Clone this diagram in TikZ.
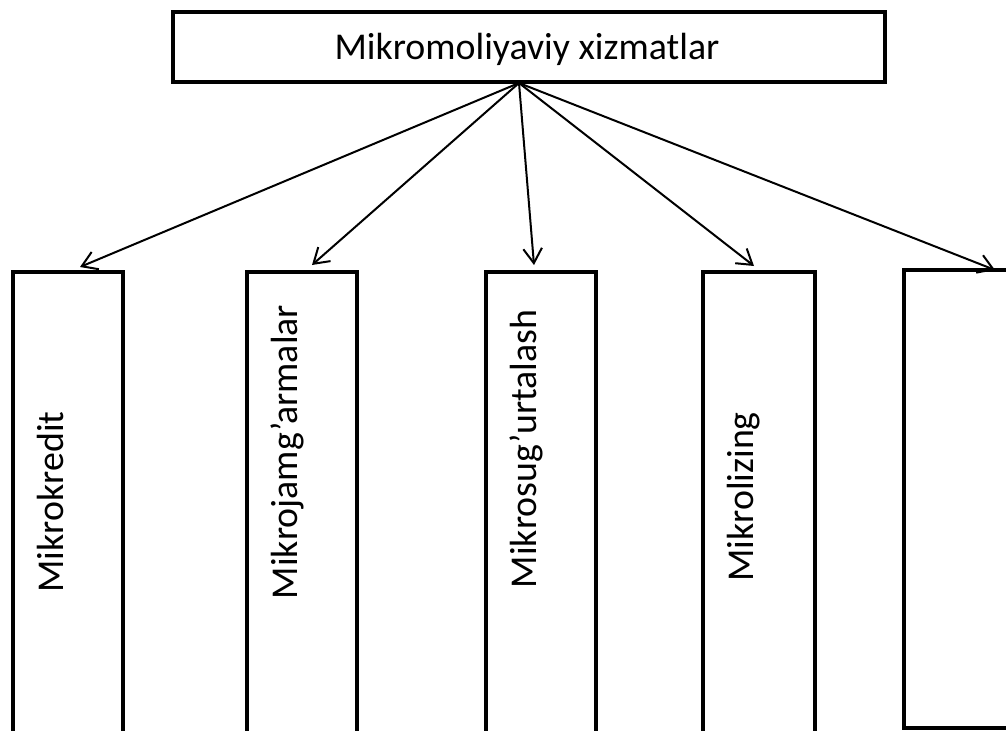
\documentclass[tikz,border=0pt]{standalone}
\usepackage{fontspec}
\setmainfont{Carlito}
\usetikzlibrary{arrows.meta}

\begin{document}
\begin{tikzpicture}[x=0.75pt,y=-0.75pt,
        box/.style={draw,line width=3.6pt,inner sep=0pt},
        txt/.style={anchor=base,inner sep=0pt,font=\fontsize{28.4}{34}\selectfont},
        arr/.style={line width=1.5pt,-{Straight Barb[length=11pt,width=14pt]}}]
        \useasboundingbox (0,0) rectangle (1006,731);
        \clip (0,0) rectangle (1006,731);
        % upper box
        \node[box,minimum width=534pt,minimum height=52.5pt] (top) at (529,47) {};
        \node[txt] (toptxt) at (527,60) {Mikromoliyaviy xizmatlar};
        % lower boxes
        \node[box,minimum width=82.5pt,minimum height=366pt] (b1) at (68,516) {};
        \node[box,minimum width=82.5pt,minimum height=366pt] (b2) at (302,516) {};
        \node[box,minimum width=82.5pt,minimum height=366pt] (b3) at (541,516) {};
        \node[box,minimum width=84pt,minimum height=366pt] (b4) at (759,516) {};
        \node[box,minimum width=83.25pt,minimum height=343.5pt] (b5) at (959.5,499) {};
        \node[txt,rotate=90] (l1) at (63,502) {Mikrokredit};
        \node[txt,rotate=90] (l2) at (297,452) {Mikrojamg’armalar};
        \node[txt,rotate=90] (l3) at (536,449) {Mikrosug’urtalash};
        \node[txt,rotate=90] (l4) at (753,497) {Mikrolizing};
        % arrows
        \coordinate (src) at (519,83);
        \coordinate (t1) at (80,267);
        \coordinate (t2) at (312,265);
        \coordinate (t3) at (534,265);
        \coordinate (t4) at (754,266);
        \coordinate (t5) at (995,270);
        \foreach \i in {1,...,5}
            \draw[arr] (src) -- (t\i);
\end{tikzpicture}
\end{document}
